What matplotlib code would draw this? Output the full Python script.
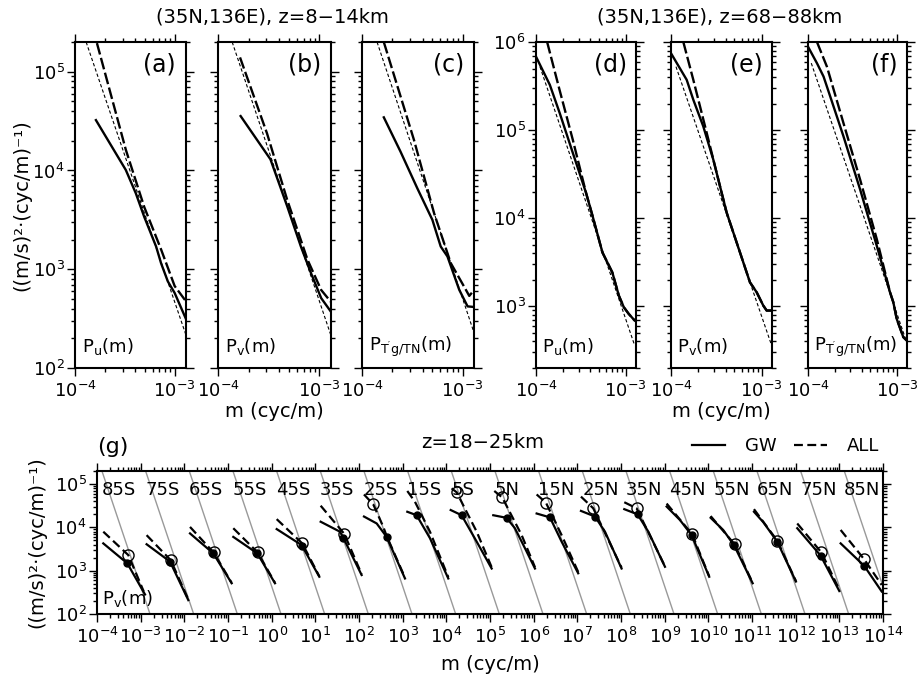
"""Vertical wavenumber spectra: six single-site panels plus a latitude composite."""

import numpy as np
import matplotlib
matplotlib.use("Agg")
import matplotlib.pyplot as plt
from matplotlib.ticker import LogLocator, NullFormatter

plt.rcParams["font.family"] = ["DejaVu Sans"]
plt.rcParams["mathtext.default"] = "regular"

# ---------------------------------------------------------------------------
# Data (stored as log10 of m [cyc/m] and P)
# ---------------------------------------------------------------------------
TOP_LABELS = ["(a)", "(b)", "(c)", "(d)", "(e)", "(f)"]
TOP_NAMES = ["$P_u(m)$", "$P_v(m)$", "$P_{T'g/TN}(m)$",
             "$P_u(m)$", "$P_v(m)$", "$P_{T'g/TN}(m)$"]

TOP_GW_LOGM = [
    [-3.79, -3.49, -3.39, -3.305, -3.186, -3.136, -3.068, -3.0, -2.875],
    [-3.777, -3.483, -3.317, -3.183, -3.083, -2.983, -2.877],
    [-3.783, -3.617, -3.45, -3.30, -3.217, -3.15, -3.033, -2.95, -2.877],
    [-4.0, -3.846, -3.736, -3.590, -3.443, -3.370, -3.260, -3.150, -3.077, -3.022, -2.967, -2.901],
    [-4.0, -3.827, -3.754, -3.644, -3.534, -3.386, -3.239, -3.129, -3.055, -2.982, -2.945, -2.89],
    [-4.0, -3.899, -3.825, -3.75, -3.601, -3.414, -3.226, -3.077, -3.040, -3.002, -2.928, -2.89],
]
TOP_GW_LOGP = [
    [4.51, 4.005, 3.77, 3.53, 3.23, 3.06, 2.876, 2.76, 2.47],
    [4.551, 4.113, 3.635, 3.23, 2.96, 2.708, 2.556],
    [4.538, 4.191, 3.82, 3.50, 3.23, 3.129, 2.792, 2.624, 2.617],
    [5.834, 5.514, 5.194, 4.742, 4.290, 4.026, 3.612, 3.386, 3.122, 2.991, 2.915, 2.840],
    [5.872, 5.571, 5.345, 5.043, 4.667, 4.064, 3.612, 3.273, 3.160, 3.009, 2.953, 2.953],
    [5.947, 5.759, 5.608, 5.382, 4.93, 4.328, 3.687, 3.16, 3.047, 2.859, 2.652, 2.614],
]
TOP_ALL_LOGM = [
    [-3.78, -3.49, -3.305, -3.136, -3.0, -2.875],
    [-3.783, -3.517, -3.317, -3.117, -2.983, -2.877],
    [-3.783, -3.483, -3.283, -3.117, -2.967, -2.933, -2.877],
    [-3.876, -3.736, -3.590, -3.443, -3.370, -3.260, -3.150, -3.077, -3.022, -2.967, -2.901],
    [-3.864, -3.754, -3.606, -3.46, -3.386, -3.239, -3.129, -3.055, -2.982, -2.945, -2.89],
    [-3.899, -3.787, -3.601, -3.414, -3.226, -3.077, -3.040, -3.002, -2.928, -2.89],
]
TOP_ALL_LOGP = [
    [5.29, 4.21, 3.63, 3.20, 2.83, 2.66],
    [5.145, 4.376, 3.70, 3.095, 2.79, 2.657],
    [5.30, 4.309, 3.567, 3.062, 2.792, 2.73, 2.80],
    [6.0, 5.45, 4.89, 4.29, 4.026, 3.612, 3.386, 3.122, 2.991, 2.915, 2.840],
    [6.0, 5.571, 4.968, 4.365, 4.064, 3.612, 3.273, 3.160, 3.009, 2.953, 2.953],
    [6.0, 5.72, 5.08, 4.44, 3.763, 3.16, 3.047, 2.859, 2.652, 2.614],
]
# saturation reference line (end points)
TOP_SAT_LOGM = [[-3.888, -2.875], [-3.86, -2.877], [-3.85, -2.877],
                [-3.956, -2.901], [-3.945, -2.89], [-3.963, -2.89]]
TOP_SAT_LOGP = [[5.30, 2.30], [5.30, 2.30], [5.30, 2.33],
                [5.72, 2.557], [5.72, 2.557], [5.76, 2.595]]

LATS = ["85S", "75S", "65S", "55S", "45S", "35S", "25S", "15S", "5S",
        "5N", "15N", "25N", "35N", "45N", "55N", "65N", "75N", "85N"]

G_GW_LOGM = [
    [-3.856, -3.306, -2.90],
    [-3.864, -3.328, -2.909],
    [-3.870, -3.337, -2.916],
    [-3.879, -3.329, -2.924],
    [-3.885, -3.313, -2.909],
    [-3.878, -3.436, -3.36, -2.94],
    [-3.886, -3.595, -3.367, -2.947],
    [-3.894, -3.68, -3.375, -2.955],
    [-3.90, -3.65, -3.305, -2.962],
    [-3.925, -3.62, -3.43, -3.20, -2.97],
    [-3.932, -3.627, -3.36, -2.98],
    [-3.917, -3.597, -3.367, -2.987],
    [-3.925, -3.62, -3.374, -2.993],
    [-3.955, -3.65, -3.383, -2.98],
    [-3.947, -3.66, -3.413, -2.985],
    [-3.955, -3.742, -3.422, -2.994],
    [-3.964, -3.43, -3.0],
    [-3.97, -3.429, -3.03],
]
G_GW_LOGP = [
    [3.63, 3.17, 2.45],
    [3.61, 3.21, 2.32],
    [3.86, 3.40, 2.71],
    [3.78, 3.40, 2.71],
    [3.96, 3.59, 2.86],
    [4.13, 3.90, 3.76, 2.90],
    [4.25, 4.09, 3.78, 2.82],
    [4.36, 4.28, 3.75, 2.82],
    [4.40, 4.28, 3.67, 3.05],
    [4.28, 4.22, 3.98, 3.52, 3.05],
    [4.32, 4.23, 3.67, 2.94],
    [4.38, 4.25, 3.90, 3.05],
    [4.42, 4.30, 3.90, 3.09],
    [4.48, 4.17, 3.82, 2.86],
    [4.22, 3.94, 3.59, 2.71],
    [4.36, 4.12, 3.67, 2.75],
    [3.98, 3.35, 2.53],
    [3.63, 3.11, 2.52],
]
G_ALL_LOGM = [
    [-3.856, -3.283, -2.93],
    [-3.864, -3.31, -2.92],
    [-3.870, -3.33, -2.916],
    [-3.879, -3.32, -2.924],
    [-3.885, -3.30, -2.909],
    [-3.878, -3.337, -2.94],
    [-3.886, -3.673, -3.443, -3.367, -2.947],
    [-3.894, -3.718, -3.375, -2.955],
    [-3.88, -3.764, -3.305, -2.962],
    [-3.902, -3.719, -3.275, -2.97],
    [-3.932, -3.719, -3.35, -2.98],
    [-3.917, -3.635, -2.987],
    [-3.925, -3.643, -2.993],
    [-3.955, -3.37, -2.98],
    [-3.947, -3.40, -2.985],
    [-3.955, -3.42, -2.994],
    [-3.964, -3.41, -3.0],
    [-3.97, -3.429, -3.03],
]
G_ALL_LOGP = [
    [3.90, 3.36, 2.52],
    [3.82, 3.24, 2.36],
    [4.01, 3.42, 2.72],
    [3.98, 3.42, 2.72],
    [4.19, 3.63, 2.87],
    [4.50, 3.85, 2.92],
    [4.76, 4.53, 4.01, 3.80, 2.84],
    [4.84, 4.59, 3.90, 2.85],
    [4.90, 4.81, 3.90, 3.08],
    [4.84, 4.69, 3.82, 3.08],
    [4.76, 4.57, 3.80, 2.97],
    [4.71, 4.44, 3.07],
    [4.58, 4.44, 3.10],
    [4.55, 3.84, 2.87],
    [4.26, 3.61, 2.72],
    [4.42, 3.69, 2.76],
    [4.09, 3.42, 2.56],
    [3.94, 3.26, 2.67],
]
# characteristic wavenumber markers (filled: GW, open: ALL)
G_GW_MARK_LOGM = [-3.306, -3.328, -3.337, -3.329, -3.313, -3.36, -3.367, -3.68, -3.65,
                  -3.62, -3.627, -3.597, -3.62, -3.383, -3.413, -3.422, -3.43, -3.429]
G_GW_MARK_LOGP = [3.17, 3.21, 3.40, 3.40, 3.57, 3.76, 3.78, 4.28, 4.28,
                  4.22, 4.23, 4.25, 4.30, 3.82, 3.59, 3.67, 3.35, 3.11]
G_ALL_MARK_LOGM = [-3.283, -3.31, -3.33, -3.32, -3.30, -3.337, -3.673, np.nan, -3.764,
                   -3.719, -3.719, -3.635, -3.643, -3.37, -3.40, -3.42, -3.41, -3.429]
G_ALL_MARK_LOGP = [3.36, 3.24, 3.42, 3.42, 3.63, 3.85, 4.53, np.nan, 4.81,
                   4.69, 4.57, 4.44, 4.44, 3.84, 3.61, 3.69, 3.42, 3.26]
# saturation reference line (per latitude, before the 10^k offset)
G_SAT_LOGM = [-4.0, -2.7]
G_SAT_LOGP = [5.64, 1.74]
LAT_LABEL_LOGM = -3.89
LAT_LABEL_LOGP = 4.873

# ---------------------------------------------------------------------------
FIG_W, FIG_H = 922, 674
YLABEL = "((m/s)\u00b2\u00b7(cyc/m)\u207b\u00b9)"


def px_axes(fig, x0, x1, y0, y1):
    """Add axes from pixel box (top-left origin)."""
    return fig.add_axes([x0 / FIG_W, 1 - y1 / FIG_H,
                         (x1 - x0) / FIG_W, (y1 - y0) / FIG_H])


def style_axis(ax):
    ax.set_xscale("log")
    ax.set_yscale("log")
    for axis in (ax.xaxis, ax.yaxis):
        axis.set_major_locator(LogLocator(base=10, numticks=60))
        axis.set_minor_locator(LogLocator(base=10, subs=np.arange(2, 10), numticks=600))
        axis.set_minor_formatter(NullFormatter())
    ax.tick_params(which="both", direction="out", top=True, right=True,
                   width=1.0, labelsize=13)
    ax.tick_params(which="major", length=6)
    ax.tick_params(which="minor", length=3)
    ax.tick_params(axis="y", pad=1.5)
    for s in ax.spines.values():
        s.set_linewidth(1.5)


def lin(v):
    return 10 ** np.asarray(v, dtype=float)


fig = plt.figure(figsize=(FIG_W / 100, FIG_H / 100), dpi=100)

top_boxes = [(75, 186), (218, 331), (362, 474), (536, 636), (671, 772), (808, 907)]
for i, (x0, x1) in enumerate(top_boxes):
    ax = px_axes(fig, x0, x1, 42, 368)
    style_axis(ax)
    ax.plot(lin(TOP_SAT_LOGM[i]), lin(TOP_SAT_LOGP[i]), color="k", lw=0.8, dashes=(3, 2))
    ax.plot(lin(TOP_ALL_LOGM[i]), lin(TOP_ALL_LOGP[i]), color="k", lw=1.7, dashes=(5, 1.5))
    ax.plot(lin(TOP_GW_LOGM[i]), lin(TOP_GW_LOGP[i]), color="k", lw=1.7)
    ax.set_xlim(1e-4, 1.3e-3)
    if i < 3:
        ax.set_ylim(1e2, 2e5)
    else:
        ax.set_ylim(2e2, 1e6)
    if i not in (0, 3):
        ax.tick_params(labelleft=False)
    ax.text(0.91, 0.93, TOP_LABELS[i], transform=ax.transAxes, ha="right",
            va="center", fontsize=17)
    ax.text(0.06, 0.065, TOP_NAMES[i], transform=ax.transAxes, ha="left",
            va="center", fontsize=13)
    if i == 0:
        ax.set_ylabel(YLABEL, fontsize=14)
        ax.yaxis.set_label_coords(-0.39, 0.5)
    if i in (1, 4):
        ax.set_xlabel("m (cyc/m)", fontsize=14)
        ax.xaxis.set_label_coords(0.5, -0.105)

fig.text(272 / FIG_W, 1 - 17 / FIG_H, "(35N,136E), z=8\u221214km",
         ha="center", va="center", fontsize=14)
fig.text(720 / FIG_W, 1 - 17 / FIG_H, "(35N,136E), z=68\u221288km",
         ha="center", va="center", fontsize=14)

# ---- composite panel (g) ----
axg = px_axes(fig, 97, 883, 471, 614)
style_axis(axg)
for k, lat in enumerate(LATS):
    shift = 10.0 ** k
    axg.plot(lin(G_SAT_LOGM) * shift, lin(G_SAT_LOGP), color="#999999", lw=1.0, zorder=1)
    l_all, = axg.plot(lin(G_ALL_LOGM[k]) * shift, lin(G_ALL_LOGP[k]), color="k",
                      lw=1.6, dashes=(4, 2), zorder=2)
    l_gw, = axg.plot(lin(G_GW_LOGM[k]) * shift, lin(G_GW_LOGP[k]), color="k",
                     lw=1.6, zorder=3)
    axg.plot(10 ** G_GW_MARK_LOGM[k] * shift, 10 ** G_GW_MARK_LOGP[k], "o",
             color="k", ms=5, zorder=4)
    if not np.isnan(G_ALL_MARK_LOGM[k]):
        axg.plot(10 ** G_ALL_MARK_LOGM[k] * shift, 10 ** G_ALL_MARK_LOGP[k], "o",
                 mfc="none", mec="k", mew=1.0, ms=8, zorder=4)
    axg.text(10 ** LAT_LABEL_LOGM * shift, 10 ** LAT_LABEL_LOGP, lat,
             ha="left", va="center", fontsize=13)
    if k == 0:
        l_gw.set_label("GW")
        l_all.set_label("ALL")
        handles = [l_gw, l_all]

axg.set_xlim(1e-4, 1e14)
axg.set_ylim(1e2, 2e5)
axg.text(0.006, 0.105, "$P_v(m)$", transform=axg.transAxes, ha="left",
         va="center", fontsize=13)
axg.set_ylabel(YLABEL, fontsize=14)
axg.yaxis.set_label_coords(-0.064, 0.5)
axg.set_xlabel("m (cyc/m)", fontsize=14)
axg.xaxis.set_label_coords(0.5, -0.29)
axg.legend(handles=handles, loc="lower right", bbox_to_anchor=(0.995, 1.11),
           ncol=2, frameon=False, fontsize=13, handlelength=1.8,
           handletextpad=1.1, columnspacing=1.0, borderaxespad=0, borderpad=0)
fig.text(97 / FIG_W, 1 - 447 / FIG_H, "(g)", ha="left", va="center", fontsize=16)
fig.text(483 / FIG_W, 1 - 443 / FIG_H, "z=18\u221225km", ha="center",
         va="center", fontsize=14)

fig.savefig("out.png", dpi=100)
